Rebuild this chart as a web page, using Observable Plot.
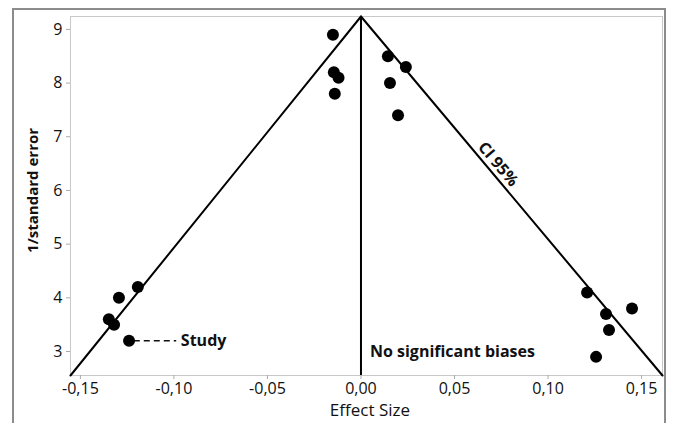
<!DOCTYPE html>
<html>
<head>
<meta charset="utf-8">
<script src="https://cdn.jsdelivr.net/npm/d3@7"></script>
<script src="https://cdn.jsdelivr.net/npm/@observablehq/plot@0.6"></script>
<style>
  html, body { margin: 0; padding: 0; background: #fff; }
  #wrap { position: relative; width: 673px; height: 423px; overflow: hidden; }
  #border { position: absolute; left: 12px; top: 8px; width: 654px; height: 430px; border: 2px solid #8c8c8c; box-sizing: border-box; }
  #chart { position: absolute; left: 0; top: 0; }
  g[aria-label="x-axis tick label"], g[aria-label="y-axis tick label"] { font-size: 16px; }
</style>
</head>
<body>
<div id="wrap"><div id="border"></div><div id="chart"></div></div>
<script>
const effectSize = [-0.015, -0.0145, -0.012, -0.014, 0.0144, 0.024, 0.0155, 0.0198,
                    -0.1294, -0.1193, -0.1348, -0.132, -0.124,
                    0.1209, 0.1449, 0.131, 0.1326, 0.1257];
const precision  = [8.9, 8.2, 8.1, 7.8, 8.5, 8.3, 8.0, 7.4,
                    4.0, 4.2, 3.6, 3.5, 3.2,
                    4.1, 3.8, 3.7, 3.4, 2.9];
const ciX = [-0.1553, 0, 0.1612];
const ciY = [2.553, 9.24, 2.553];
const xTicks = [-0.15, -0.10, -0.05, 0, 0.05, 0.10, 0.15];
const yTicks = [3, 4, 5, 6, 7, 8, 9];
const studyLine = {x1: -0.1212, x2: -0.0985, y: 3.2};

const points = effectSize.map((e, i) => ({x: e, y: precision[i]}));
const ci = ciX.map((x, i) => ({x, y: ciY[i]}));
const fmtX = d => d3.format(".2f")(d).replace(".", ",").replace("\u2212", "-");
const fmtY = d => d3.format("d")(d);
const font = "'Open Sans', 'Noto Sans', sans-serif";

const plot = Plot.plot({
  width: 673,
  height: 423,
  marginLeft: 70,
  marginRight: 11,
  marginTop: 16,
  marginBottom: 48,
  style: {fontFamily: font, fontSize: "16px", color: "#111", background: "transparent", overflow: "visible"},
  x: {domain: [-0.1553, 0.1612]},
  y: {domain: [2.553, 9.24]},
  marks: [
    Plot.frame({stroke: "#c8c8c8"}),
    Plot.axisX({ticks: xTicks, tickFormat: fmtX, tickSize: 4, tickPadding: 3, stroke: "#aaa", fill: "#111", label: null}),
    Plot.axisY({ticks: yTicks, tickFormat: fmtY, tickSize: 4, tickPadding: 4, stroke: "#aaa", fill: "#111", label: null}),
    Plot.line(ci.slice(0, 2), {x: "x", y: "y", stroke: "black", strokeWidth: 2}),
    Plot.line(ci.slice(1), {x: "x", y: "y", stroke: "black", strokeWidth: 2}),
    Plot.ruleX([0], {stroke: "black", strokeWidth: 2}),
    Plot.ruleY([studyLine], {x1: "x1", x2: "x2", y: "y", stroke: "#111", strokeWidth: 1.5, strokeDasharray: "6,4"}),
    Plot.dot(points, {x: "x", y: "y", r: 6, fill: "black", stroke: "none"}),
    Plot.text(["Study"], {x: -0.0963, y: 3.2, text: d => d, textAnchor: "start", fontWeight: "bold", fontSize: 16, fill: "#111"}),
    Plot.text(["No significant biases"], {x: 0.0048, y: 3.0, text: d => d, textAnchor: "start", fontWeight: "bold", fontSize: 16, fill: "#111"}),
    Plot.text(["CI 95%"], {x: 0.0733, y: 6.49, text: d => d, rotate: 50, fontWeight: "bold", fontSize: 16, fill: "#111"}),
    Plot.text(["1/standard error"], {x: -0.1751, y: 6.0, rotate: -90, text: d => d, fontWeight: "bold", fontSize: 15, fill: "#111", clip: false}),
    Plot.text(["Effect Size"], {x: 0.0048, y: 2.553, dy: 35, text: d => d, fontSize: 17, fill: "#111", clip: false})
  ]
});
document.getElementById("chart").appendChild(plot);
</script>
</body>
</html>
